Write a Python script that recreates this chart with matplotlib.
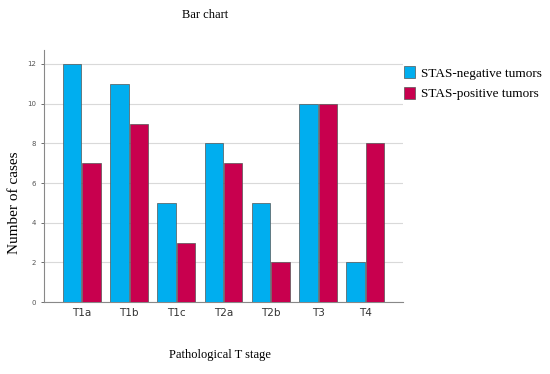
import numpy as np
import matplotlib.pyplot as plt

# Data
stages = ['T1a', 'T1b', 'T1c', 'T2a', 'T2b', 'T3', 'T4']
stas_negative = [12, 11, 5, 8, 5, 10, 2]
stas_positive = [7, 9, 3, 7, 2, 10, 8]

BLUE = '#00AEEF'
RED = '#C8004E'
SERIF = ['Liberation Serif', 'DejaVu Serif']

fig = plt.figure(figsize=(5.5, 3.74), dpi=100)
ax = fig.add_axes([0.08, 0.1925, 0.653, 0.6735])

x = np.arange(len(stages))
w = 0.39
ax.bar(x - w / 2 - 0.01, stas_negative, w, color=BLUE, edgecolor='#555555',
       linewidth=0.5, label='STAS-negative tumors', zorder=3)
ax.bar(x + w / 2 + 0.01, stas_positive, w, color=RED, edgecolor='#555555',
       linewidth=0.5, label='STAS-positive tumors', zorder=3)

ax.set_xlim(-0.8, 6.8)
ax.set_ylim(0, 12.7)
ax.set_yticks(range(0, 13, 2))
ax.set_xticks(x)
ax.set_xticklabels(stages, fontsize=7.5, color='#333333')
ax.tick_params(axis='y', labelsize=5, colors='#555555', length=2, width=0.6)
ax.tick_params(axis='x', length=0, pad=4)

ax.grid(axis='y', color='#d9d9d9', linewidth=0.8, zorder=0)
for side in ['top', 'right']:
    ax.spines[side].set_visible(False)
for side in ['left', 'bottom']:
    ax.spines[side].set_color('#888888')
    ax.spines[side].set_linewidth(0.8)

fig.text(0.027, 0.457, 'Number of cases', rotation=90, ha='center', va='center',
         fontsize=11, family=SERIF)
fig.text(0.373, 0.96, 'Bar chart', ha='center', va='center',
         fontsize=9, family=SERIF)
fig.text(0.4, 0.05, 'Pathological T stage', ha='center', va='center',
         fontsize=9, family=SERIF)

fig.legend(loc='upper left', bbox_to_anchor=(0.713, 0.855), frameon=False,
           prop={'family': SERIF, 'size': 9.5}, handlelength=0.8,
           handleheight=1.0, handletextpad=0.5, labelspacing=0.55)

plt.savefig('out.png', dpi=100, facecolor='white')
plt.close()
